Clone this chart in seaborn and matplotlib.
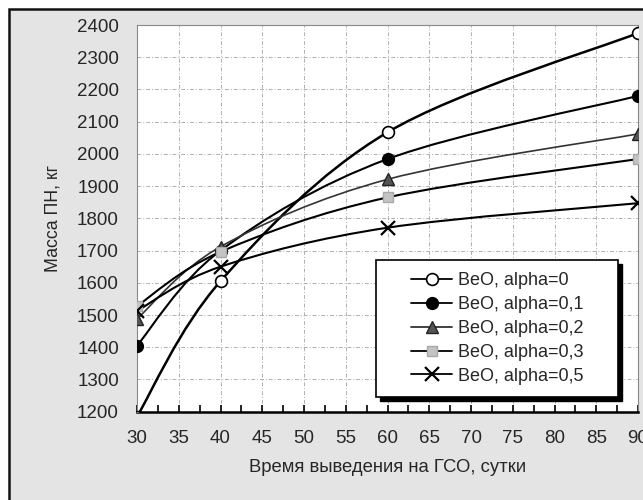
import numpy as np
import pandas as pd
import matplotlib
matplotlib.use("Agg")
import matplotlib.pyplot as plt
import seaborn as sns
from matplotlib.path import Path
from matplotlib.patches import PathPatch, Rectangle
from matplotlib.lines import Line2D
from matplotlib.ticker import MultipleLocator

# ---- data ----
days = [30, 40, 60, 90]
series_labels = ["BeO, alpha=0", "BeO, alpha=0,1", "BeO, alpha=0,2",
                 "BeO, alpha=0,3", "BeO, alpha=0,5"]
mass_a00 = [1185, 1605, 2067, 2375]
mass_a01 = [1405, 1700, 1984, 2180]
mass_a02 = [1488, 1712, 1921, 2062]
mass_a03 = [1528, 1696, 1865, 1984]
mass_a05 = [1513, 1650, 1771, 1847]
x_label = "Время выведения на ГСО, сутки"
y_label = "Масса ПН, кг"

all_mass = [mass_a00, mass_a01, mass_a02, mass_a03, mass_a05]

sns.set_style("white")
plt.rcParams["font.family"] = ["Liberation Sans", "DejaVu Sans"]

W, H = 643, 500
fig = plt.figure(figsize=(W / 100, H / 100), dpi=100)
fig.patch.set_facecolor("white")

# figure background panel (gray with black border)
fig.patches.append(Rectangle((9 / W, -0.1), 1.1, 1 - 9 / H + 0.1, transform=fig.transFigure,
                             facecolor="#e4e4e4", edgecolor="#111111", linewidth=1.8, zorder=-5))

ax = fig.add_axes([137 / W, 1 - 411.7 / H, (638 - 137) / W, (411.7 - 25) / H])
ax.set_facecolor("white")

styles = [
    dict(marker="o", ms=8.5, mfc="white", mec="black", mew=1.2, lc="black", lw=1.8),
    dict(marker="o", ms=8.5, mfc="black", mec="black", mew=1.0, lc="black", lw=1.5),
    dict(marker="^", ms=9, mfc="#555555", mec="#222222", mew=1.0, lc="#333333", lw=1.2),
    dict(marker="s", ms=7.5, mfc="#c4c4c4", mec="#a8a8a8", mew=1.0, lc="black", lw=1.5),
    dict(marker="x", ms=10, mfc="black", mec="black", mew=1.6, lc="black", lw=1.5),
]


def smooth_path(x, y):
    pts = np.column_stack([x, y]).astype(float)
    n = len(pts)
    verts = [pts[0]]
    codes = [Path.MOVETO]
    for i in range(n - 1):
        p0 = pts[max(i - 1, 0)]
        p1 = pts[i]
        p2 = pts[i + 1]
        p3 = pts[min(i + 2, n - 1)]
        c1 = p1 + (p2 - p0) / 6.0
        c2 = p2 - (p3 - p1) / 6.0
        verts += [c1, c2, p2]
        codes += [Path.CURVE4] * 3
    return Path(verts, codes)


for lab, vals, st in zip(series_labels, all_mass, styles):
    patch = PathPatch(smooth_path(days, vals), facecolor="none", edgecolor=st["lc"],
                      linewidth=st["lw"], zorder=3, transform=ax.transData)
    ax.add_patch(patch)
    df = pd.DataFrame({"x": days, "y": vals})
    sns.lineplot(data=df, x="x", y="y", ax=ax, marker=st["marker"], markersize=st["ms"],
                 markerfacecolor=st["mfc"], markeredgecolor=st["mec"], markeredgewidth=st["mew"],
                 linewidth=0, color=st["lc"], zorder=4, legend=False)

ax.set_xlim(30, 90)
ax.set_ylim(1200, 2400)
ax.xaxis.set_major_locator(MultipleLocator(5))
ax.xaxis.set_minor_locator(MultipleLocator(2.5))
ax.yaxis.set_major_locator(MultipleLocator(100))

ax.grid(True, which="major", color="#b0b0b0", linestyle=(0, (4, 2, 1, 2)), linewidth=0.7)
ax.set_axisbelow(True)

ax.tick_params(axis="x", which="both", direction="in", length=5, width=1.2, color="black",
               labelsize=13.5, pad=13, bottom=True, top=False)
ax.tick_params(axis="y", which="both", length=0, labelsize=13.5, pad=13, left=False)

for s in ["top", "right", "left"]:
    ax.spines[s].set_color("#888888")
    ax.spines[s].set_linewidth(0.8)
ax.spines["bottom"].set_color("black")
ax.spines["bottom"].set_linewidth(1.8)

ax.set_xlabel(x_label, fontsize=13.3, labelpad=9)
ax.set_ylabel(y_label, fontsize=12.8, labelpad=11)

# legend frame with shadow
lx0, lx1, ly0, ly1 = 0.477, 0.96, 0.038, 0.392
dx, dy = 4 / 501, 4 / 386.7
ax.add_patch(Rectangle((lx0 + dx, ly0 - dy), lx1 - lx0, ly1 - ly0, transform=ax.transAxes,
                       facecolor="black", edgecolor="black", zorder=8, clip_on=False))
ax.add_patch(Rectangle((lx0, ly0), lx1 - lx0, ly1 - ly0, transform=ax.transAxes,
                       facecolor="white", edgecolor="black", linewidth=1.2, zorder=9, clip_on=False))

handles = [Line2D([0], [0], color=st["lc"], lw=1.3, marker=st["marker"], markersize=st["ms"],
                  markerfacecolor=st["mfc"], markeredgecolor=st["mec"], markeredgewidth=st["mew"])
           for st in styles]
leg = ax.legend(handles, series_labels, loc="center", bbox_to_anchor=((lx0 + lx1) / 2, (ly0 + ly1) / 2),
                frameon=False, fontsize=13, handlelength=2.3, handletextpad=0.3,
                labelspacing=0.38, borderpad=0.2)
leg.set_zorder(10)

fig.savefig("out.png", dpi=100)
